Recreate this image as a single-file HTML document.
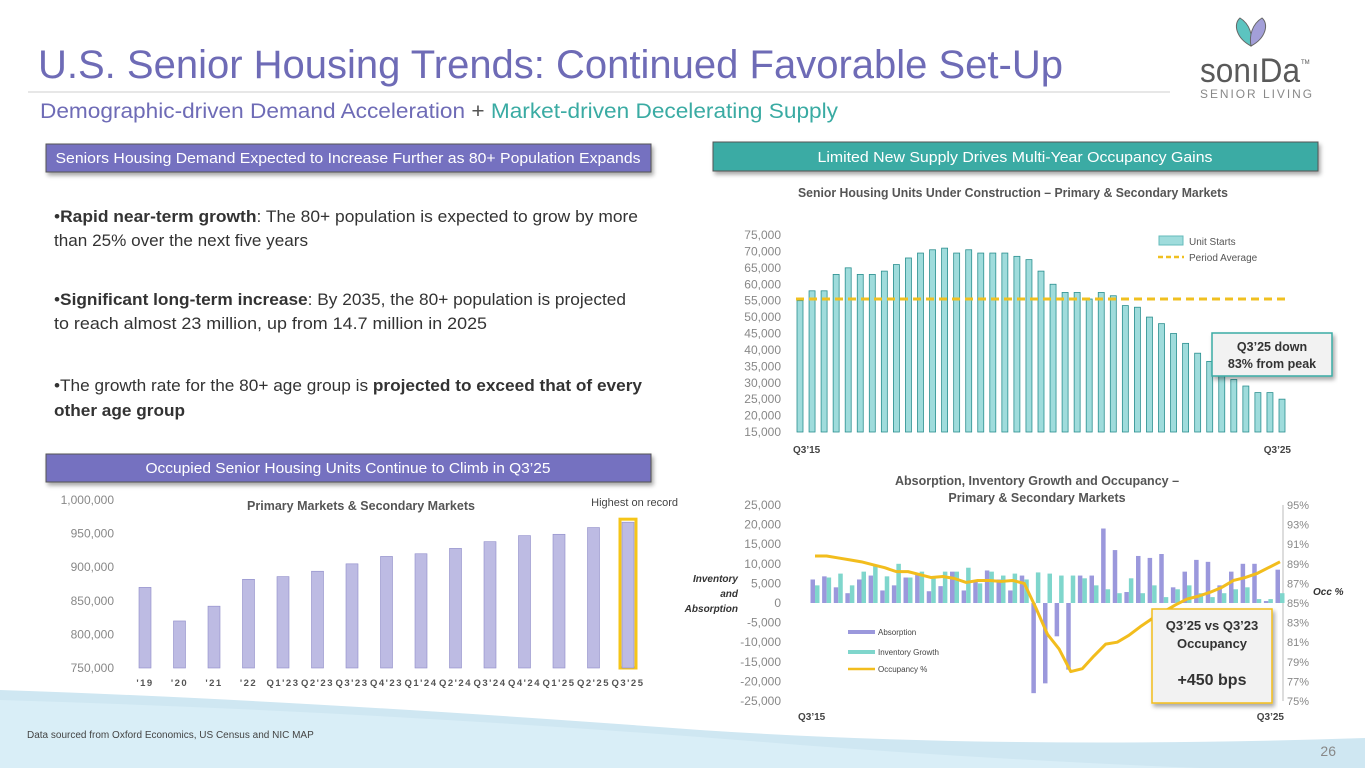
<!DOCTYPE html>
<html><head><meta charset="utf-8"><style>
html,body{margin:0;padding:0;background:#fff;}
svg{display:block;font-family:"Liberation Sans",sans-serif;}
</style></head><body>
<svg id="slide" width="1365" height="768" viewBox="0 0 1365 768" xmlns="http://www.w3.org/2000/svg">
<defs>
<filter id="sh" x="-5%" y="-20%" width="110%" height="160%"><feDropShadow dx="2" dy="3" stdDeviation="2" flood-color="#000" flood-opacity="0.35"/></filter>
</defs>
<!-- bottom wave -->
<path d="M0 690 Q 300 700 700 730 Q 1000 750 1365 738 L1365 768 L0 768 Z" fill="#cfe7f2"/>
<path d="M0 700 Q 400 712 800 745 Q 1000 760 1200 768 L0 768 Z" fill="#d9eef7"/>
<!-- title -->
<text x="38" y="78" font-size="40" fill="#6e6bb6" textLength="1025" lengthAdjust="spacingAndGlyphs">U.S. Senior Housing Trends: Continued Favorable Set-Up</text>
<line x1="28" y1="92" x2="1170" y2="92" stroke="#cfcfcf" stroke-width="1"/>
<text x="40" y="118" font-size="21" textLength="798" lengthAdjust="spacingAndGlyphs"><tspan fill="#6e6bb6">Demographic-driven Demand Acceleration</tspan><tspan fill="#555"> + </tspan><tspan fill="#3aaba3">Market-driven Decelerating Supply</tspan></text>
<!-- logo -->
<g>
<path d="M1251 46 C1236 38 1233 24 1240 18 C1250 24 1253 36 1251 46Z" fill="#5cc4c0" stroke="#666" stroke-width="1"/>
<path d="M1251 46 C1266 38 1269 24 1262 18 C1252 24 1249 36 1251 46Z" fill="#a39fd8" stroke="#666" stroke-width="1"/>
<text x="1200" y="82" font-size="34" fill="#5a5a5a" textLength="100" lengthAdjust="spacingAndGlyphs">sonıDa</text>
<text x="1301" y="64" font-size="6" fill="#555">TM</text>
<text x="1200" y="98" font-size="12" fill="#888" textLength="114" lengthAdjust="spacingAndGlyphs" letter-spacing="2">SENIOR LIVING</text>
</g>
<!-- section headers -->
<g filter="url(#sh)"><rect x="46" y="144" width="605" height="28" fill="#7471c0" stroke="#555" stroke-width="1"/></g>
<text x="348" y="163" font-size="15" fill="#fff" text-anchor="middle" textLength="585" lengthAdjust="spacingAndGlyphs">Seniors Housing Demand Expected to Increase Further as 80+ Population Expands</text>
<g filter="url(#sh)"><rect x="713" y="142" width="605" height="29" fill="#3aaba4" stroke="#555" stroke-width="1"/></g>
<text x="1015" y="162" font-size="15" fill="#fff" text-anchor="middle" textLength="395" lengthAdjust="spacingAndGlyphs">Limited New Supply Drives Multi-Year Occupancy Gains</text>
<g filter="url(#sh)"><rect x="46" y="454" width="605" height="28" fill="#7471c0" stroke="#555" stroke-width="1"/></g>
<text x="348" y="473" font-size="15" fill="#fff" text-anchor="middle" textLength="405" lengthAdjust="spacingAndGlyphs">Occupied Senior Housing Units Continue to Climb in Q3’25</text>
<!-- bullets -->
<g font-size="16.5" fill="#333">
<text x="54" y="222" textLength="584" lengthAdjust="spacingAndGlyphs">•<tspan font-weight="bold">Rapid near-term growth</tspan>: The 80+ population is expected to grow by more</text>
<text x="54" y="246" textLength="254" lengthAdjust="spacingAndGlyphs">than 25% over the next five years</text>
<text x="54" y="305" textLength="572" lengthAdjust="spacingAndGlyphs">•<tspan font-weight="bold">Significant long-term increase</tspan>: By 2035, the 80+ population is projected</text>
<text x="54" y="329" textLength="433" lengthAdjust="spacingAndGlyphs">to reach almost 23 million, up from 14.7 million in 2025</text>
<text x="54" y="391" textLength="588" lengthAdjust="spacingAndGlyphs">•The growth rate for the 80+ age group is <tspan font-weight="bold">projected to exceed that of every</tspan></text>
<text x="54" y="416" font-weight="bold" textLength="131" lengthAdjust="spacingAndGlyphs">other age group</text>
</g>
<text x="27" y="738" font-size="10" fill="#444">Data sourced from Oxford Economics, US Census and NIC MAP</text>
<text x="1336" y="756" font-size="14" fill="#888" text-anchor="end">26</text>
<g id="c1"></g><g id="c2"></g><g id="c3"></g>
</svg>
<script>
// ---- Chart 1: Units under construction
const c1Values=[55,58,58,63,65,63,63,64,66,68,69.5,70.5,71,69.5,70.5,69.5,69.5,69.5,68.5,67.5,64,60,57.5,57.5,55.5,57.5,56.5,53.5,53,50,48,45,42,39,36.5,33,31,29,27,27,25];
const c1Ticks=[15,20,25,30,35,40,45,50,55,60,65,70,75];
const c1Avg=55.5;
// ---- Chart 2: occupied units
const c2Cats=["'19","'20","'21","'22","Q1'23","Q2'23","Q3'23","Q4'23","Q1'24","Q2'24","Q3'24","Q4'24","Q1'25","Q2'25","Q3'25"];
const c2Values=[870,820,842,882,886,894,905,916,920,928,938,947,949,959,967];
const c2Ticks=[750,800,850,900,950,1000];
// ---- Chart 3: absorption / inventory / occupancy
const c3Abs=[6,6.8,4,2.5,6,7,3.2,4.5,6.5,7.2,3,4.3,8,3.2,5.5,8.3,6,3.2,7,-23,-20.5,-8.5,-17,7,7,19,13.5,2.8,12,11.5,12.5,4,8,11,10.5,4.5,8,10,10,0.5,8.5];
const c3Inv=[4.5,6.5,7.5,4.5,8,9.5,6.8,10,6.5,8,6.5,8,8,9,5,8,7,7.5,6,7.8,7.5,7,7,6.3,4.5,3.5,2.5,6.3,2.5,4.5,1.5,3.5,4.5,2.5,1.5,2.5,3.5,4,1,1,2.5];
const c3Occ=[89.8,89.8,89.6,89.4,89.2,88.9,88.6,88.2,88.2,87.9,87.6,87.7,87.5,87.1,87.3,87.3,87.2,87.3,87.0,84.5,81.8,80.3,78.0,78.3,79.6,80.8,81.0,81.7,82.6,83.4,84.1,84.8,85.4,85.7,86.1,86.6,87.3,87.6,88.0,88.6,89.2];
const c3LeftTicks=[-25,-20,-15,-10,-5,0,5,10,15,20,25];
const c3RightTicks=[75,77,79,81,83,85,87,89,91,93,95];

const NS="http://www.w3.org/2000/svg";
function mk(parent,tag,attrs,text){const e=document.createElementNS(NS,tag);for(const k in attrs)e.setAttribute(k,attrs[k]);if(text!==undefined)e.textContent=text;parent.appendChild(e);return e;}
function fmt(v){return v.toLocaleString('en-US');}

// Chart 1
(function(){
const g=document.getElementById('c1');
const y=v=>432-(v-15)/(75-15)*197;
const x=i=>800+i*(1282-800)/(c1Values.length-1);
const t=mk(g,'text',{x:1013,y:197,'font-size':13,'font-weight':'bold',fill:'#555','text-anchor':'middle',textLength:430,lengthAdjust:'spacingAndGlyphs'},'Senior Housing Units Under Construction – Primary & Secondary Markets');


c1Ticks.forEach(v=>{const l=mk(g,'text',{x:781,y:y(v)+4,'font-size':12,fill:'#888','text-anchor':'end'},fmt(v*1000));

});
c1Values.forEach((v,i)=>{const r=mk(g,'rect',{x:x(i)-3,y:y(v),width:6,height:432-y(v),fill:'#9fdcdc',stroke:'#2b8f8f','stroke-width':0.8});

});
const a=mk(g,'line',{x1:796,x2:1286,y1:y(c1Avg),y2:y(c1Avg),stroke:'#f0c020','stroke-width':3,'stroke-dasharray':'8,5'});


const lx=mk(g,'text',{x:793,y:453,'font-size':10,'font-weight':'bold',fill:'#444'},"Q3’15");


const lx2=mk(g,'text',{x:1291,y:453,'font-size':10,'font-weight':'bold',fill:'#444','text-anchor':'end'},"Q3’25");


const lg=mk(g,'g',{});


mk(lg,'rect',{x:1159,y:236,width:24,height:9,fill:'#9fdcdc',stroke:'#6bb'});
mk(lg,'text',{x:1189,y:245,'font-size':10,fill:'#555'},'Unit Starts');
mk(lg,'line',{x1:1158,x2:1184,y1:257,y2:257,stroke:'#f0c020','stroke-width':2.5,'stroke-dasharray':'5,3'});
mk(lg,'text',{x:1189,y:261,'font-size':10,fill:'#555'},'Period Average');
const cb=mk(g,'g',{filter:'url(#sh)'});


mk(cb,'rect',{x:1212,y:333,width:120,height:43,fill:'#f2f2f2',stroke:'#3aaba4','stroke-width':1.5});
mk(g,'text',{x:1272,y:351,'font-size':12.5,'font-weight':'bold',fill:'#333','text-anchor':'middle'},"Q3’25 down");
mk(g,'text',{x:1272,y:368,'font-size':12.5,'font-weight':'bold',fill:'#333','text-anchor':'middle'},"83% from peak");
})();

// Chart 2
(function(){
const g=document.getElementById('c2');
const y=v=>668-(v-750)/(1000-750)*168;
const x=i=>145+i*(628-145)/(c2Values.length-1);
c2Ticks.forEach(v=>{const l=mk(g,'text',{x:114,y:y(v)+4,'font-size':12,fill:'#888','text-anchor':'end'},fmt(v*1000));

});
const t=mk(g,'text',{x:361,y:510,'font-size':12.5,'font-weight':'bold',fill:'#555','text-anchor':'middle'},'Primary Markets & Secondary Markets');


const h=mk(g,'text',{x:678,y:506,'font-size':11,fill:'#444','text-anchor':'end'},'Highest on record');


c2Values.forEach((v,i)=>{
 const last=i===c2Values.length-1;
 if(last){const hl=mk(g,'rect',{x:x(i)-8,y:y(v)-3,width:16,height:668-y(v)+3,fill:'none',stroke:'#f5c518','stroke-width':3});
 
 }
 const r=mk(g,'rect',{x:x(i)-6,y:y(v),width:12,height:668-y(v),fill:'#bdbbe3',stroke:'#8e8bc9','stroke-width':0.6});
 
 
 const l=mk(g,'text',{x:x(i),y:686,'font-size':9.5,'font-weight':'bold',fill:'#555','text-anchor':'middle','letter-spacing':'1.5'},c2Cats[i]);
 
 
});
})();

// Chart 3
(function(){
const g=document.getElementById('c3');
const y=v=>603-v/25*98;
const yr=p=>701-(p-75)/20*196;
const n=c3Abs.length;
const x=i=>815+i*(1280-815)/(n-1);
const t=mk(g,'text',{x:1037,y:485,'font-size':12.5,'font-weight':'bold',fill:'#555','text-anchor':'middle'},'Absorption, Inventory Growth and Occupancy –');


mk(g,'text',{x:1037,y:502,'font-size':12.5,'font-weight':'bold',fill:'#555','text-anchor':'middle'},'Primary & Secondary Markets');
c3LeftTicks.forEach(v=>{const l=mk(g,'text',{x:781,y:y(v)+4,'font-size':12,fill:'#888','text-anchor':'end'},fmt(v*1000));

});
mk(g,'line',{x1:1283,x2:1283,y1:505,y2:701,stroke:'#bbb','stroke-width':1});
c3RightTicks.forEach(v=>{const l=mk(g,'text',{x:1287,y:yr(v)+4,'font-size':11,fill:'#888'},v+'%');

});
['Inventory','and','Absorption'].forEach((s,k)=>{const l=mk(g,'text',{x:738,y:582+k*15,'font-size':10,'font-weight':'bold','font-style':'italic',fill:'#333','text-anchor':'end'},s);

});
const oc=mk(g,'text',{x:1313,y:595,'font-size':10,'font-weight':'bold','font-style':'italic',fill:'#333'},'Occ %');


for(let i=0;i<n;i++){
 const a=c3Abs[i],v=c3Inv[i];
 const ra=mk(g,'rect',{x:x(i)-4.5,y:Math.min(y(a),603),width:4.5,height:Math.abs(y(a)-603),fill:'#9b98dc'});
 
 
 const ri=mk(g,'rect',{x:x(i),y:Math.min(y(v),603),width:4.5,height:Math.abs(y(v)-603),fill:'#7fd6cc'});
 
 
}
const pts=c3Occ.map((p,i)=>x(i)+','+yr(p)).join(' ');
const pl=mk(g,'polyline',{points:pts,fill:'none',stroke:'#f2bd1d','stroke-width':3,'stroke-linejoin':'round'});


const lg=mk(g,'g',{'font-size':8,fill:'#444'});


mk(lg,'rect',{x:848,y:630,width:27,height:4,fill:'#9b98dc'});
mk(lg,'text',{x:878,y:635},'Absorption');
mk(lg,'rect',{x:848,y:650,width:27,height:4,fill:'#7fd6cc'});
mk(lg,'text',{x:878,y:655},'Inventory Growth');
mk(lg,'line',{x1:848,x2:875,y1:669,y2:669,stroke:'#f2bd1d','stroke-width':2.5});
mk(lg,'text',{x:878,y:672},'Occupancy %');
mk(g,'text',{x:798,y:720,'font-size':10,'font-weight':'bold',fill:'#444'},"Q3’15");
mk(g,'text',{x:1284,y:720,'font-size':10,'font-weight':'bold',fill:'#444','text-anchor':'end'},"Q3’25");
const cb=mk(g,'g',{filter:'url(#sh)'});


mk(cb,'rect',{x:1152,y:609,width:120,height:94,fill:'#f2f2f2',stroke:'#f2bd1d','stroke-width':1.5});
mk(g,'text',{x:1212,y:630,'font-size':13,'font-weight':'bold',fill:'#333','text-anchor':'middle'},"Q3’25 vs Q3’23");
mk(g,'text',{x:1212,y:648,'font-size':13,'font-weight':'bold',fill:'#333','text-anchor':'middle'},'Occupancy');
mk(g,'text',{x:1212,y:685,'font-size':16,'font-weight':'bold',fill:'#333','text-anchor':'middle'},'+450 bps');
})();
</script>
</body></html>
